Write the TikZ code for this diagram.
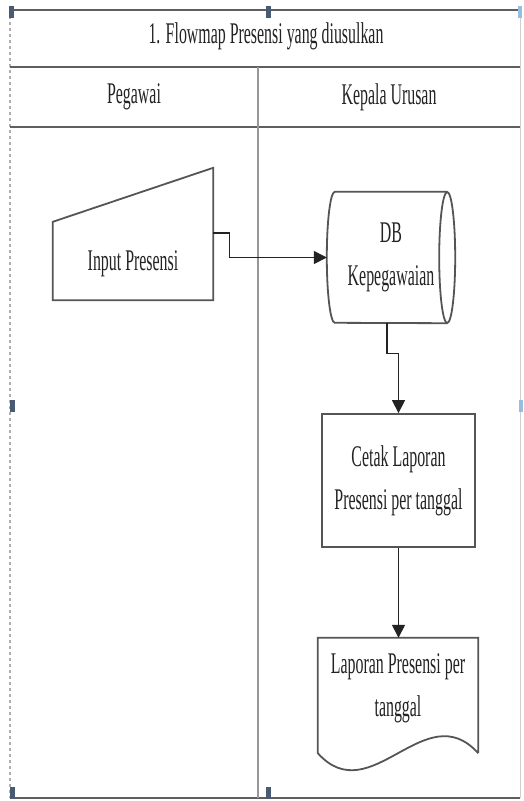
\documentclass[tikz,border=0pt]{standalone}
\usepackage{fontspec}
\setmainfont{Liberation Serif}[FakeStretch=0.53]
\usetikzlibrary{calc, positioning}
\usetikzlibrary{arrows.meta}
\definecolor{txt}{RGB}{35,35,35}
\definecolor{framegray}{RGB}{95,95,95}
\definecolor{symbgray}{RGB}{85,85,85}
\definecolor{lightline}{RGB}{175,175,175}
\definecolor{handle}{RGB}{75,90,115}
\definecolor{handlelight}{RGB}{150,190,225}

\begin{document}
\begin{tikzpicture}[x=1pt,y=-1pt,
    every node/.style={font=\fontsize{30}{43}\selectfont, text=txt, align=center, inner sep=0pt},
    frame/.style={draw=framegray, line width=2.6pt},
    divider/.style={draw=lightline!70!framegray, line width=1.6pt},
    symb/.style={draw=symbgray, line width=1.8pt},
    flow/.style={draw=txt, line width=1.4pt, -{Triangle[length=13pt,width=13pt]}}]
\useasboundingbox (0,0) rectangle (524,801);
\fill[white] (0,0) rectangle (524,801);

% swimlane frame
\draw[lightline, dashed, line width=1.5pt] (10,10) -- (10,798);
\draw[lightline!60, line width=1pt] (520,10) -- (520,798);
\draw[frame] (10,10) -- (520,10);
\draw[frame] (10,67) -- (520,67);
\draw[frame] (10,127) -- (520,127);
\draw[frame] (10,798) -- (520,798);
\draw[divider] (258,67) -- (258,798);
\foreach \hx/\hy in {11/12, 268/12, 12/406, 12/793, 268/793}
    \fill[handle] (\hx-2.5,\hy-6) rectangle (\hx+2.5,\hy+6);
\foreach \hx/\hy in {520/12, 521/406}
    \fill[handlelight] (\hx-2,\hy-6) rectangle (\hx+2,\hy+6);

\node (Title) at (266,36) {1. Flowmap Presensi yang diusulkan};
\node (Peg) at (134,97) {Pegawai};
\node (Kep) at (389,97) {Kepala Urusan};

% symbols
\node[minimum width=160pt, minimum height=72pt] (In) at (133,264) {Input Presensi};
\draw[symb] (In.south west) -- (In.south east) -- ($(In.north east)+(0,-60)$)
    -- ($(In.north west)+(0,-6)$) -- cycle;

\node[minimum width=112pt, minimum height=131pt] (DB) at (391,257.5) {DB\\Kepegawaian};
\draw[symb] (DB.north east) -- (DB.north west)
    arc[start angle=90, end angle=270, x radius=8pt, y radius=65.5pt]
    -- (DB.south east);
\draw[symb] (DB.east) ellipse[x radius=8pt, y radius=65.5pt];

\node[symb, minimum width=153pt, minimum height=133pt] (Cetak) at (398.5,480.5)
    {Cetak Laporan\\Presensi per tanggal};

\node[minimum width=160pt, minimum height=100pt] (Lap) at (398,688)
    {Laporan Presensi per\\tanggal};
\draw[symb] ($(Lap.south east)+(0,15)$) -- (Lap.north east) -- (Lap.north west)
    -- ($(Lap.south west)+(0,15)$)
    .. controls ($(Lap.south west)+(53,74)$) and ($(Lap.south east)+(-53,-44)$)
    .. ($(Lap.south east)+(0,15)$);

% connectors
\path[flow] ($(In.north east)+(0,5)$) -- ++(16,0) |- ($(DB.west)+(-8,0)$);
\path[flow] ($(DB.south)+(-4,0)$) -- ++(0,30) -| (Cetak.north);
\path[flow] (Cetak.south) -- (Cetak.south |- Lap.north);
\end{tikzpicture}
\end{document}
